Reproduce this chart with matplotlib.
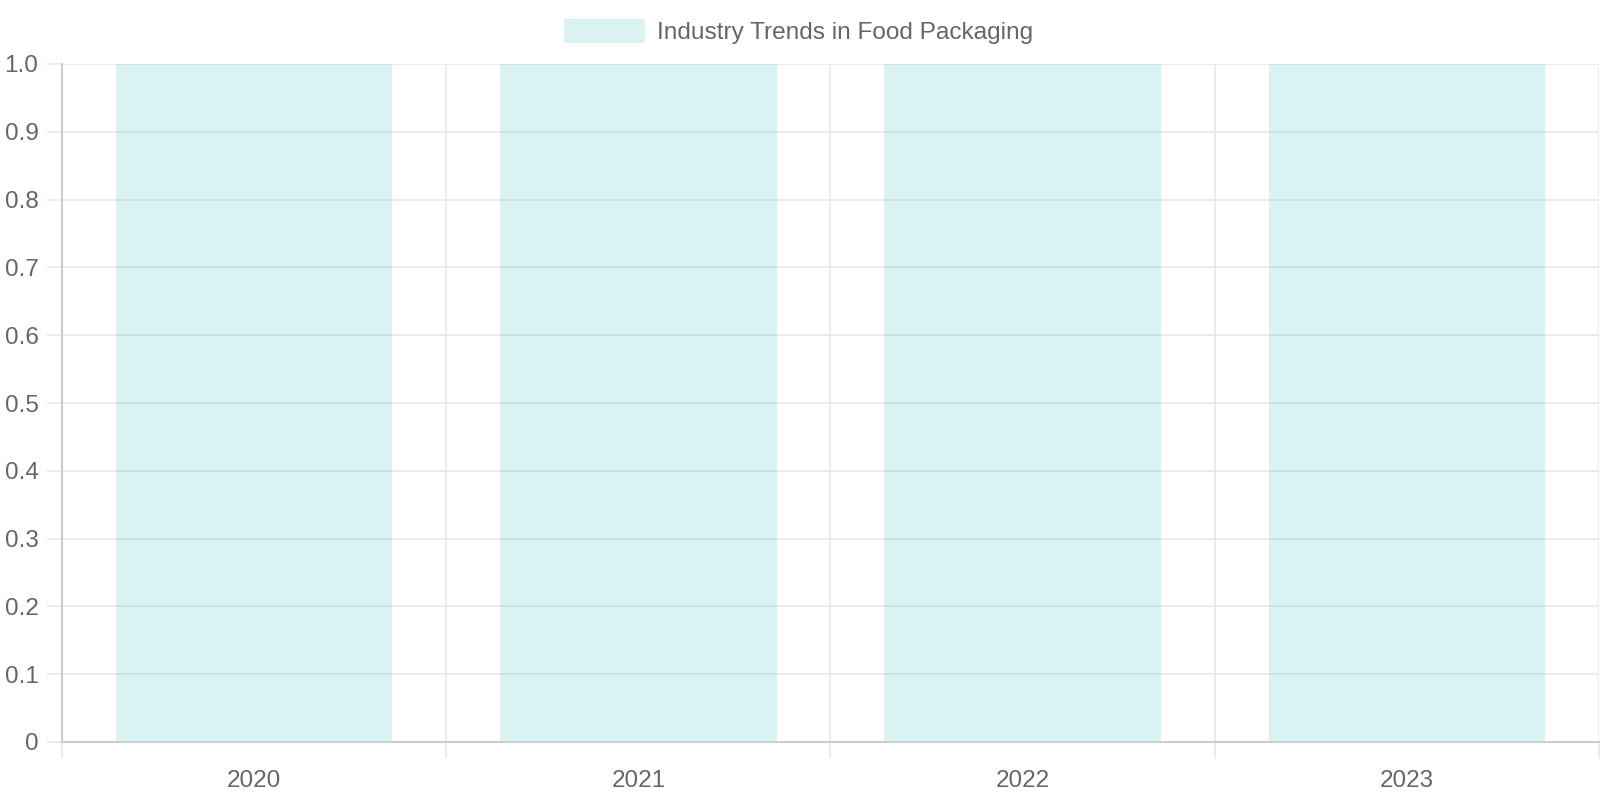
import numpy as np
import matplotlib.pyplot as plt
from matplotlib.patches import Rectangle

plt.rcParams['font.family'] = ['Liberation Sans', 'DejaVu Sans']

years = ["2020", "2021", "2022", "2023"]
values = [1.0, 1.0, 1.0, 1.0]
series_label = "Industry Trends in Food Packaging"
y_ticks = [0, 0.1, 0.2, 0.3, 0.4, 0.5, 0.6, 0.7, 0.8, 0.9, 1.0]
y_tick_labels = ["0", "0.1", "0.2", "0.3", "0.4", "0.5", "0.6", "0.7", "0.8", "0.9", "1.0"]

W, H = 1600, 800
fill = (75 / 255, 192 / 255, 192 / 255, 0.2)
text_col = "#666666"
grid_col = "#e6e6e6"
axis_col = "#cccccc"

fig = plt.figure(figsize=(W / 100, H / 100), dpi=100)
left, right, top, bottom = 62, 1599, 64, 742
ax = fig.add_axes([left / W, 1 - bottom / H, (right - left) / W, (bottom - top) / H])

x = np.arange(len(years))
ax.bar(x, values, width=0.72, color=fill, zorder=3)

ax.set_xlim(-0.5, len(years) - 0.5)
ax.set_ylim(0, 1)

# category labels in the middle, grid + ticks on the boundaries
ax.set_xticks(x)
ax.set_xticklabels(years)
ax.set_xticks(np.arange(len(years) + 1) - 0.5, minor=True)
ax.tick_params(axis='x', which='major', length=0, pad=20, labelsize=17.5, labelcolor=text_col)
ax.tick_params(axis='x', which='minor', length=11.5, width=1.1, color=grid_col)
ax.grid(True, axis='x', which='minor', color=grid_col, linewidth=1.1, zorder=0)

ax.set_yticks(y_ticks)
ax.set_yticklabels(y_tick_labels)
ax.tick_params(axis='y', length=11, width=1.1, color=grid_col, pad=6, labelsize=17.5, labelcolor=text_col)
ax.grid(True, axis='y', color=grid_col, linewidth=1.1, zorder=0)

for s in ['top', 'right']:
    ax.spines[s].set_visible(False)
for s in ['left', 'bottom']:
    ax.spines[s].set_color(axis_col)
    ax.spines[s].set_linewidth(1.5)
    ax.spines[s].set_zorder(4)

# legend drawn at the top centre
fig.patches.append(Rectangle((564 / W, 1 - 43 / H), 81 / W, 24 / H,
                             transform=fig.transFigure, facecolor=fill, edgecolor='none'))
fig.text(657 / W, 1 - 33.5 / H, series_label, ha='left', va='center', fontsize=17.6, color=text_col)

plt.savefig("out.png", dpi=100)
